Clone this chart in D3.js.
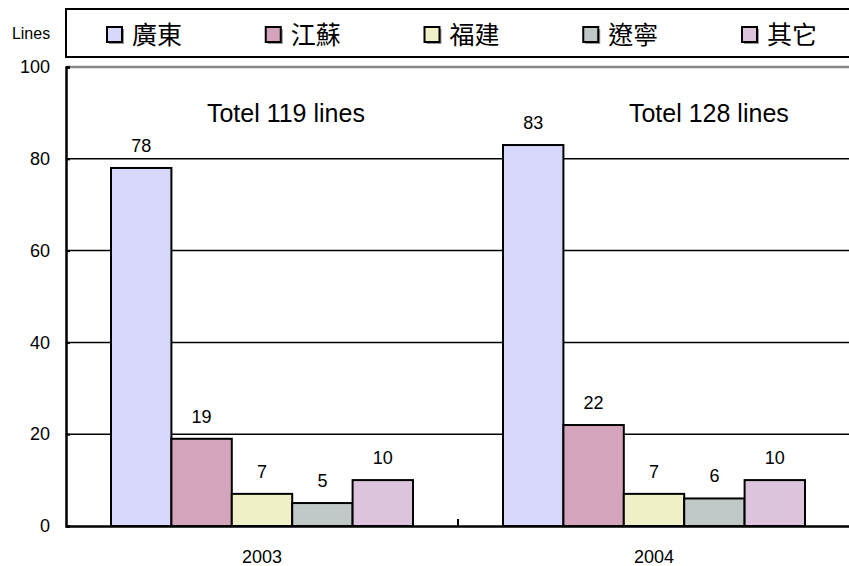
<!DOCTYPE html>
<html>
<head>
<meta charset="utf-8">
<script src="https://cdn.jsdelivr.net/npm/d3@7"></script>
<style>
  body { margin: 0; background: #fff; }
  svg { display: block; }
  text { font-family: "Liberation Sans", Arial, sans-serif; fill: #000; }
  .cjk { font-family: "Noto Sans CJK TC", "Noto Sans CJK SC", sans-serif; }
</style>
</head>
<body>
<script>
// data
const years = ["2003", "2004"];
const regions = ["廣東", "江蘇", "福建", "遼寧", "其它"];
const values = {
  "2003": [78, 19, 7, 5, 10],
  "2004": [83, 22, 7, 6, 10]
};
const totals = ["Totel 119 lines", "Totel 128 lines"];
const yTicks = [0, 20, 40, 60, 80, 100];
const colors = ["#d8d8fc", "#d4a4bc", "#f0f0c8", "#c0c8c8", "#dcc4dc"];

const width = 849;
const height = 566;
const plot = {left: 66, right: 850, top: 67, bottom: 526};

const svg = d3.select("body").append("svg")
  .attr("width", width)
  .attr("height", height);

const x = d3.scaleBand()
  .domain(years)
  .range([plot.left, plot.right]);

const xInner = d3.scaleBand()
  .domain(regions)
  .range([45, 347]);

const y = d3.scaleLinear()
  .domain([0, 100])
  .range([plot.bottom, plot.top]);

const color = d3.scaleOrdinal().domain(regions).range(colors);

// gridlines
svg.append("g")
  .selectAll("line")
  .data(yTicks.filter(d => d > 0 && d < 100))
  .join("line")
  .attr("x1", plot.left)
  .attr("x2", width)
  .attr("y1", d => y(d))
  .attr("y2", d => y(d))
  .attr("stroke", "#000")
  .attr("stroke-width", 1.5);

// top border of plot
svg.append("line")
  .attr("x1", plot.left)
  .attr("x2", width)
  .attr("y1", y(100))
  .attr("y2", y(100))
  .attr("stroke", "#888")
  .attr("stroke-width", 2.5);

// y axis
const yAxis = g => g
  .attr("transform", `translate(${plot.left},0)`)
  .call(d3.axisLeft(y).tickValues(yTicks).tickSize(-4).tickPadding(16))
  .call(g => g.select(".domain").attr("stroke-width", 2.5))
  .call(g => g.selectAll(".tick line").attr("stroke-width", 2))
  .call(g => g.selectAll(".tick text")
    .attr("font-size", 18)
    .attr("font-family", "Liberation Sans, Arial, sans-serif"));
svg.append("g").call(yAxis);

svg.append("text")
  .attr("x", 31)
  .attr("y", 39)
  .attr("text-anchor", "middle")
  .attr("font-size", 16)
  .text("Lines");

// bars
const groups = svg.append("g")
  .selectAll("g")
  .data(years)
  .join("g")
  .attr("transform", d => `translate(${x(d)},0)`);

groups.selectAll("rect")
  .data(yr => regions.map((r, i) => ({region: r, value: values[yr][i]})))
  .join("rect")
  .attr("x", d => xInner(d.region))
  .attr("width", xInner.bandwidth())
  .attr("y", d => y(d.value))
  .attr("height", d => y(0) - y(d.value))
  .attr("fill", d => color(d.region))
  .attr("stroke", "#000")
  .attr("stroke-width", 2);

groups.selectAll("text.val")
  .data(yr => regions.map((r, i) => ({region: r, value: values[yr][i]})))
  .join("text")
  .attr("class", "val")
  .attr("x", d => xInner(d.region) + xInner.bandwidth() / 2)
  .attr("y", d => y(d.value) - 16)
  .attr("text-anchor", "middle")
  .attr("font-size", 18)
  .text(d => d.value);

// totals
const totalPos = [0.561, 0.64];
svg.append("g")
  .selectAll("text")
  .data(years)
  .join("text")
  .attr("x", (d, i) => x(d) + x.bandwidth() * totalPos[i])
  .attr("y", 122)
  .attr("text-anchor", "middle")
  .attr("font-size", 25)
  .text((d, i) => totals[i]);

// x axis
const xAxis = g => g
  .attr("transform", `translate(0,${plot.bottom})`)
  .call(d3.axisBottom(x).tickSize(0).tickPadding(24))
  .call(g => g.select(".domain").attr("stroke-width", 2.5))
  .call(g => g.selectAll(".tick text")
    .attr("font-size", 18)
    .attr("font-family", "Liberation Sans, Arial, sans-serif"));
svg.append("g").call(xAxis);

// separator tick between categories
svg.append("line")
  .attr("x1", x("2004"))
  .attr("x2", x("2004"))
  .attr("y1", plot.bottom)
  .attr("y2", plot.bottom - 7)
  .attr("stroke", "#000")
  .attr("stroke-width", 2);

// legend
const legend = svg.append("g");
legend.append("rect")
  .attr("x", 66)
  .attr("y", 9)
  .attr("width", 800)
  .attr("height", 48)
  .attr("fill", "#fff")
  .attr("stroke", "#000")
  .attr("stroke-width", 2);

const lx = d3.scaleBand()
  .domain(regions)
  .range([107, 107 + 5 * 158.75]);

const item = legend.selectAll("g.item")
  .data(regions)
  .join("g")
  .attr("class", "item")
  .attr("transform", d => `translate(${lx(d)},27)`);

item.append("rect")
  .attr("x", 2)
  .attr("y", 2)
  .attr("width", 15)
  .attr("height", 15)
  .attr("fill", "#999");

item.append("rect")
  .attr("width", 15)
  .attr("height", 15)
  .attr("fill", d => color(d))
  .attr("stroke", "#000")
  .attr("stroke-width", 2);

item.append("text")
  .attr("class", "cjk")
  .attr("x", 25)
  .attr("y", 8)
  .attr("dy", "0.36em")
  .attr("font-size", 25)
  .text(d => d);
</script>
</body>
</html>
